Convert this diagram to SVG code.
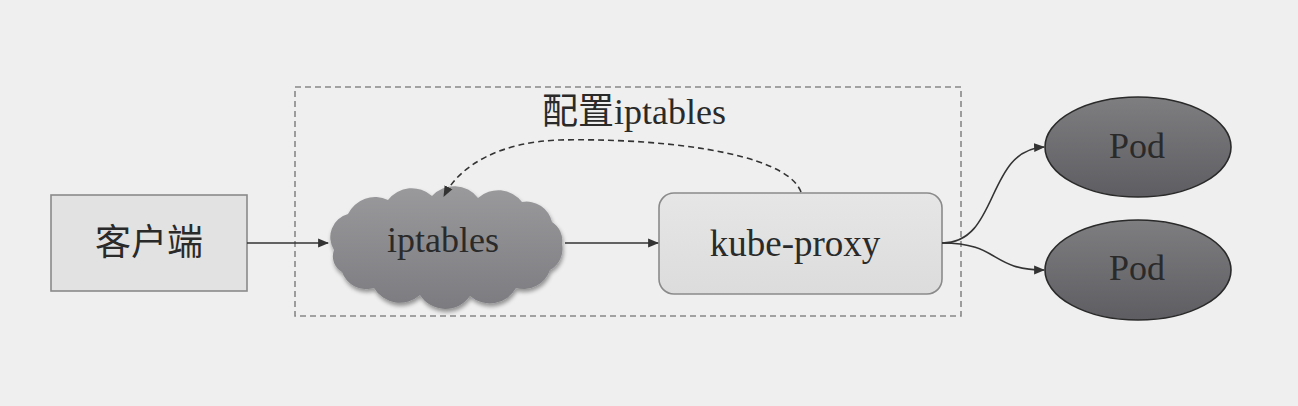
<svg xmlns="http://www.w3.org/2000/svg" width="1298" height="406" viewBox="0 0 1298 406">
<defs>
<style>
.t{font-family:"Liberation Serif","Noto Sans CJK SC",serif;fill:#2a2a2a;text-anchor:middle;dominant-baseline:central}
.ln{fill:none;stroke:#333;stroke-width:1.6}
</style>
<linearGradient id="cg" x1="0" y1="0" x2="0" y2="1"><stop offset="0" stop-color="#9a9a9d"/><stop offset="1" stop-color="#7c7c80"/></linearGradient>
<linearGradient id="pg" x1="0" y1="0" x2="0" y2="1"><stop offset="0" stop-color="#7e7e81"/><stop offset="1" stop-color="#5e5e62"/></linearGradient>
<linearGradient id="kg" x1="0" y1="0" x2="0" y2="1"><stop offset="0" stop-color="#e6e6e6"/><stop offset="1" stop-color="#dcdcdc"/></linearGradient>
<filter id="sh" x="-10%" y="-10%" width="120%" height="130%"><feGaussianBlur in="SourceAlpha" stdDeviation="2"/><feOffset dx="1" dy="3"/><feComponentTransfer><feFuncA type="linear" slope="0.4"/></feComponentTransfer><feMerge><feMergeNode/><feMergeNode in="SourceGraphic"/></feMerge></filter>
<marker id="ah" viewBox="0 0 10 10" refX="9" refY="5" markerWidth="11" markerHeight="11" markerUnits="userSpaceOnUse" orient="auto"><path d="M0,1 L10,5 L0,9 Z" fill="#333"/></marker>
</defs>
<rect width="1298" height="406" fill="#efefef"/>
<g id="container"><rect x="295" y="87" width="666" height="229" fill="none" stroke="#888" stroke-width="1.6" stroke-dasharray="6,4"/></g>
<g id="client"><rect x="51" y="195" width="196" height="96" fill="#e2e2e2" stroke="#8a8a8a" stroke-width="1.6"/><text class="t" x="149" y="243" font-size="36">客户端</text></g>
<g id="iptables"><path filter="url(#sh)" fill="url(#cg)" d="M334,250 A24,24 0 0 1 348,214 A30,30 0 0 1 388,200 A30,30 0 0 1 432,196 A30,30 0 0 1 478,198 A30,30 0 0 1 522,202 A26,26 0 0 1 552,222 A22,22 0 0 1 562,244 A24,24 0 0 1 550,270 A28,28 0 0 1 516,288 A30,30 0 0 1 470,296 A30,30 0 0 1 420,295 A30,30 0 0 1 374,288 A26,26 0 0 1 342,272 A18,18 0 0 1 334,250 Z"/><text class="t" x="443" y="240" font-size="36">iptables</text></g>
<g id="kube-proxy"><rect x="659" y="193" width="283" height="101" rx="15" fill="url(#kg)" stroke="#8a8a8a" stroke-width="1.6"/><text class="t" x="795" y="243" font-size="37">kube-proxy</text></g>
<g id="pod1"><ellipse cx="1138" cy="147" rx="93" ry="50" fill="url(#pg)" stroke="#2a2a2a" stroke-width="1.6"/><text class="t" x="1137" y="146" font-size="36">Pod</text></g>
<g id="pod2"><ellipse cx="1138" cy="270" rx="93" ry="50" fill="url(#pg)" stroke="#2a2a2a" stroke-width="1.6"/><text class="t" x="1137" y="268" font-size="36">Pod</text></g>
<g id="label"><text class="t" x="634" y="112" font-size="36">配置iptables</text></g>
<g id="connectors">
<path class="ln" d="M247,243 L328,243" marker-end="url(#ah)"/>
<path class="ln" d="M565,243 L658,243" marker-end="url(#ah)"/>
<path class="ln" d="M801,192 C785,150 650,138 560,140 C500,142 460,165 444,196" stroke-dasharray="6,4" marker-end="url(#ah)"/>
<path class="ln" d="M942,243 C1000,243 985,150 1044,147" marker-end="url(#ah)"/>
<path class="ln" d="M942,243 C1000,243 990,270 1044,270" marker-end="url(#ah)"/>
</g>
</svg>
